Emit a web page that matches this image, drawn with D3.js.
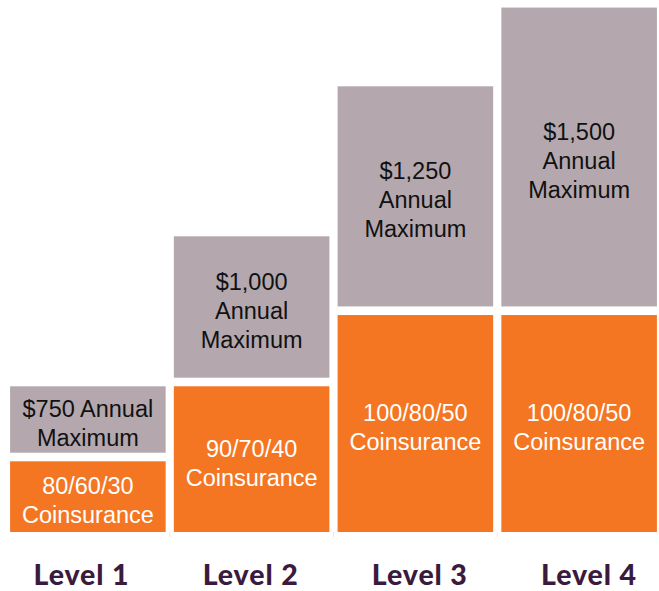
<!DOCTYPE html>
<html>
<head>
<meta charset="utf-8">
<script src="https://cdn.jsdelivr.net/npm/d3@7"></script>
<style>
  html, body { margin: 0; padding: 0; background: #fff; }
  svg { display: block; }
</style>
</head>
<body>
<svg id="chart" width="659" height="591"></svg>
<script>
// ---- data ----
const levels = ["Level 1", "Level 2", "Level 3", "Level 4"];
const coinsuranceValues = [1, 2, 2.95, 2.95];
const annualMaxValues = [1, 2, 3.05, 4.1];
const coinsuranceLabels = [["80/60/30", "Coinsurance"], ["90/70/40", "Coinsurance"], ["100/80/50", "Coinsurance"], ["100/80/50", "Coinsurance"]];
const annualMaxLabels = [["$750 Annual", "Maximum"], ["$1,000", "Annual", "Maximum"], ["$1,250", "Annual", "Maximum"], ["$1,500", "Annual", "Maximum"]];

const svg = d3.select("#chart");

const x = d3.scaleBand().domain(levels).range([6, 661]).paddingInner(0.05).paddingOuter(0.025);
const y = d3.scaleLinear().domain([0, 7]).range([532, 7]);
const xLabel = d3.scalePoint().domain(levels).range([81.5, 589]);

const orange = "#f47622";
const gray = "#b4a8ae";
const inset = 4.3;

// faint category ticks
svg.append("g").selectAll("line").data(levels.slice(1)).join("line")
  .attr("x1", d => x(d) - x.step() * 0.025).attr("x2", d => x(d) - x.step() * 0.025)
  .attr("y1", y(0)).attr("y2", y(0) + 5)
  .attr("stroke", "#f8e3d8").attr("stroke-width", 1);

const rows = levels.map((lv, i) => ({
  level: lv,
  segs: [
    { y0: 0, y1: coinsuranceValues[i], color: orange, text: coinsuranceLabels[i], tcolor: "#ffffff" },
    { y0: coinsuranceValues[i], y1: coinsuranceValues[i] + annualMaxValues[i], color: gray, text: annualMaxLabels[i], tcolor: "#111111" }
  ]
}));

const fs = 23.5, lh = 29;
rows.forEach(r => {
  r.segs.forEach(s => {
    const top = y(s.y1) + inset;
    const bottom = s.y0 === 0 ? y(0) : y(s.y0) - inset;
    svg.append("rect")
      .attr("x", x(r.level)).attr("width", x.bandwidth())
      .attr("y", top).attr("height", bottom - top)
      .attr("fill", s.color);
    const cy = (top + bottom) / 2 + 3.5;
    const n = s.text.length;
    const t = svg.append("text")
      .attr("text-anchor", "middle")
      .attr("font-family", "'Liberation Sans', Arial, sans-serif")
      .attr("font-size", fs)
      .attr("fill", s.tcolor);
    s.text.forEach((line, k) => {
      t.append("tspan")
        .attr("x", x(r.level) + x.bandwidth() / 2)
        .attr("y", cy - (n - 1) * lh / 2 + k * lh + fs * 0.358)
        .text(line);
    });
  });
});

// level labels
svg.append("g").selectAll("text").data(levels).join("text")
  .attr("x", d => xLabel(d))
  .attr("y", 585)
  .attr("text-anchor", "middle")
  .attr("font-family", "Lato, 'Open Sans', sans-serif")
  .attr("font-weight", 900)
  .attr("font-size", 28.5)
  .attr("letter-spacing", 0.9)
  .attr("fill", "#3a1b3d")
  .text(d => d);
</script>
</body>
</html>
